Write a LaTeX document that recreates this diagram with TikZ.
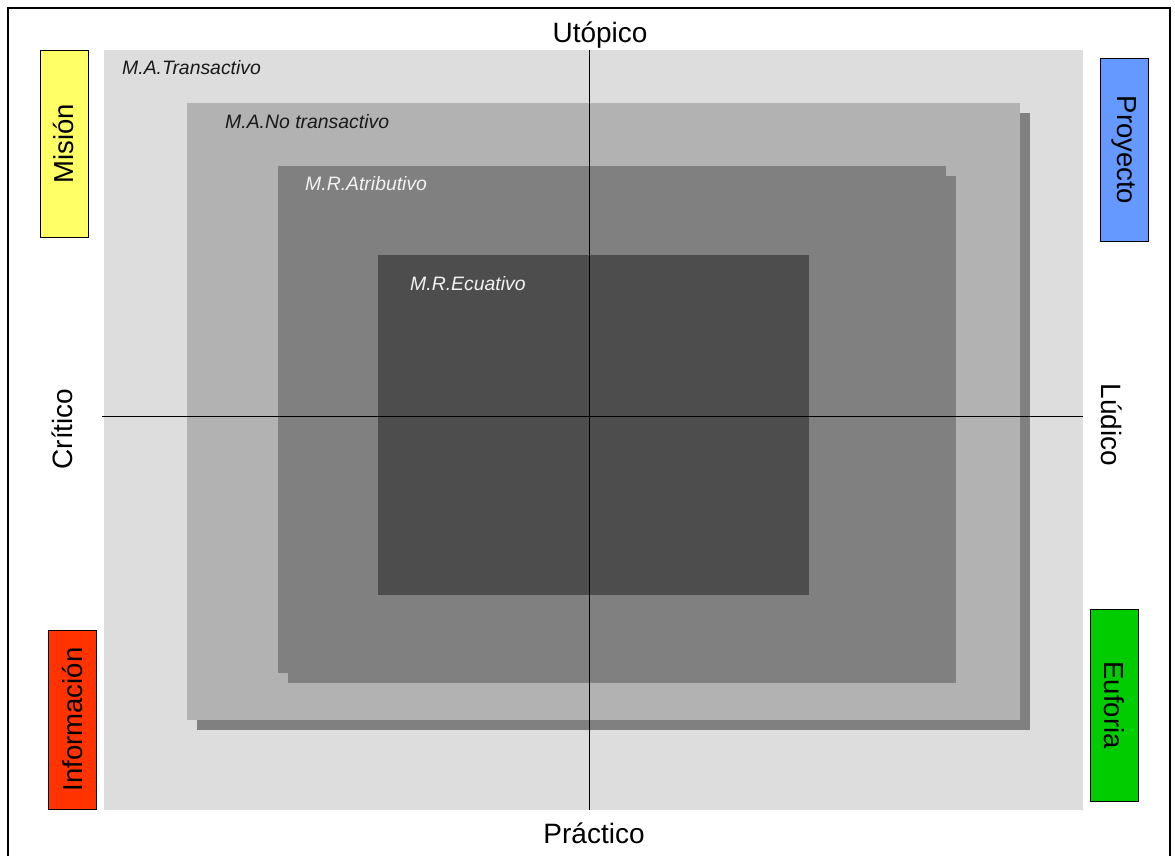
\documentclass[tikz,border=0pt]{standalone}
\usepackage{fontspec}
\setmainfont{Liberation Sans}
\usepackage{xcolor}
\usetikzlibrary{positioning}

\definecolor{transgray}{HTML}{DDDDDD}
\definecolor{notransgray}{HTML}{B2B2B2}
\definecolor{atribgray}{HTML}{808080}
\definecolor{ecuagray}{HTML}{4D4D4D}
\definecolor{misionyellow}{HTML}{FFFF66}
\definecolor{proyectoblue}{HTML}{6699FF}
\definecolor{infored}{HTML}{FF3300}
\definecolor{euforiagreen}{HTML}{00CC00}

\begin{document}
\begin{tikzpicture}[
  x=1pt, y=-1pt,
  zone/.style={rectangle, anchor=north west, inner sep=0pt, outer sep=0pt},
  tag/.style={rectangle, draw, line width=1pt, inner sep=0pt, minimum height=48pt, font=\fontsize{27.5}{30}\selectfont},
  pole/.style={inner sep=0pt, font=\fontsize{28}{30}\selectfont},
  zonelabel/.style={anchor=base west, inner sep=0pt, font=\fontsize{19.4}{22}\selectfont\itshape},
  axis/.style={line width=0.8pt}
]
  \useasboundingbox (0,0) rectangle (1175,855);
  \draw[line width=1.2pt] (8,856) -- (8,8) -- (1170,8) -- (1170,856);

  % nested zones
  \node[zone, fill=transgray, minimum width=979pt, minimum height=760pt] (transactivo) at (104,50) {};
  \node[zone, fill=atribgray, minimum width=833pt, minimum height=617pt] (notransshadow) at (197,113) {};
  \node[zone, fill=notransgray, minimum width=833pt, minimum height=617pt] (notrans) at (187,103) {};
  \node[zone, fill=atribgray, minimum width=668pt, minimum height=507pt] (atribshadow) at (288,176) {};
  \node[zone, fill=atribgray, minimum width=668pt, minimum height=507pt] (atributivo) at (278,166) {};
  \node[zone, fill=ecuagray, minimum width=431pt, minimum height=340pt] (ecuativo) at (378,255) {};

  \node[zonelabel, text=black!90] (ltrans) at (122,74) {M.A.Transactivo};
  \node[zonelabel, text=black!90] (lnotrans) at (225,128) {M.A.No transactivo};
  \node[zonelabel, text=white!95!black] (latrib) at (305,190) {M.R.Atributivo};
  \node[zonelabel, text=white!95!black] (lecua) at (410,290) {M.R.Ecuativo};

  % axes
  \coordinate (axtop) at (589,50);
  \coordinate (axbot) at (589,810);
  \coordinate (axleft) at (102,416);
  \coordinate (axright) at (1083,416);
  \draw[axis] (axtop) -- (axbot);
  \draw[axis] (axleft) -- (axright);

  \node[pole, anchor=base] (utopico) at (600,42) {Utópico};
  \node[pole, anchor=base] (practico) at (594,843) {Práctico};
  \node[pole, rotate=90] (critico) at (62,429) {Crítico};
  \node[pole, rotate=-90] (ludico) at (1112,425) {Lúdico};

  % corner tags
  \node[tag, fill=misionyellow, rotate=90, minimum width=187pt] (mision) at (64,143.5) {Misión};
  \node[tag, fill=proyectoblue, rotate=-90, minimum width=183pt] (proyecto) at (1124,150) {Proyecto};
  \node[tag, fill=infored, rotate=90, minimum width=179pt] (informacion) at (72.5,719.5) {Información};
  \node[tag, fill=euforiagreen, rotate=-90, minimum width=192pt] (euforia) at (1114,705) {Euforia};
\end{tikzpicture}
\end{document}
